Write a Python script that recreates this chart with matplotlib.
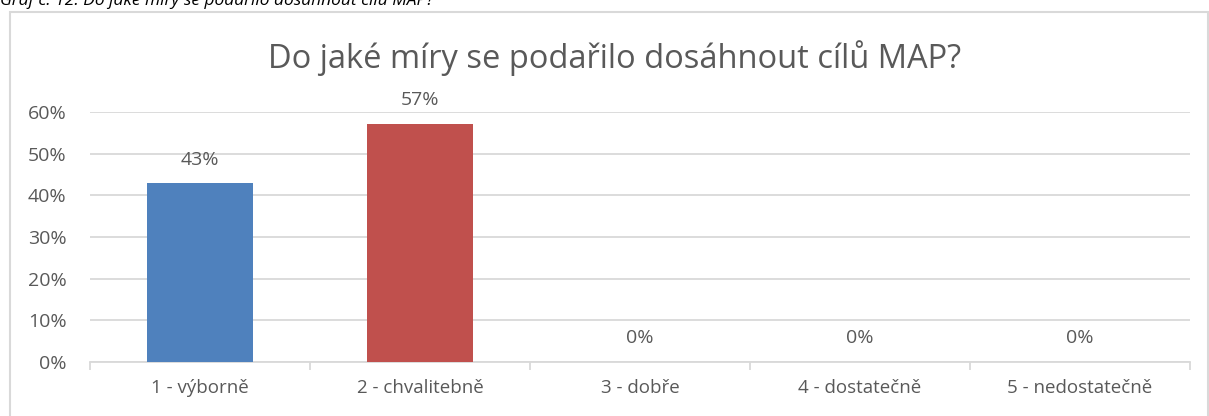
import matplotlib
matplotlib.use("Agg")
import matplotlib.pyplot as plt
from matplotlib.patches import Rectangle
import numpy as np

categories = ["1 - výborně", "2 - chvalitebně", "3 - dobře", "4 - dostatečně", "5 - nedostatečně"]
values = [0.4286, 0.5714, 0.0, 0.0, 0.0]
labels = ["43%", "57%", "0%", "0%", "0%"]
colors = ["#4F81BD", "#C0504D", "#9BBB59", "#8064A2", "#4BACC6"]
yticks = [0, 0.1, 0.2, 0.3, 0.4, 0.5, 0.6]

plt.rcParams['font.family'] = ['Open Sans', 'DejaVu Sans']
txt = "#595959"
grid = "#D9D9D9"

fig = plt.figure(figsize=(12.09, 4.16), dpi=100)
ax = fig.add_axes([90 / 1209, 1 - 362 / 416, 1100 / 1209, 250 / 416])

x = np.arange(len(categories))
ax.bar(x, values, width=0.48, color=colors, zorder=3)
for xi, v, lab in zip(x, values, labels):
    ax.annotate(lab, (xi, v), xytext=(0, 10.5), textcoords="offset points",
                ha="center", va="bottom", fontsize=14, color=txt)

ax.set_xlim(-0.5, len(categories) - 0.5)
ax.set_ylim(0, 0.6)
ax.set_yticks(yticks)
ax.set_yticklabels([f"{int(round(t * 100))}%" for t in yticks])
ax.yaxis.grid(True, color=grid, linewidth=1.3, zorder=0)
ax.tick_params(axis="y", length=0, pad=17, labelsize=14, labelcolor=txt)

ax.set_xticks(x)
ax.set_xticklabels(categories)
ax.set_xticks(np.arange(len(categories) + 1) - 0.5, minor=True)
ax.tick_params(axis="x", which="major", length=0, pad=12, labelsize=13.5, labelcolor=txt)
ax.tick_params(axis="x", which="minor", length=6, color=grid, width=1.3)

for s in ["top", "right", "left"]:
    ax.spines[s].set_visible(False)
ax.spines["bottom"].set_color(grid)
ax.spines["bottom"].set_linewidth(1.3)

fig.text(615 / 1209, 1 - 58 / 416, "Do jaké míry se podařilo dosáhnout cílů MAP?",
         ha="center", va="center", fontsize=23.5, color=txt)

fig.text(0, 1 - 5 / 416, "Graf č. 12: Do jaké míry se podařilo dosáhnout cílů MAP?",
         ha="left", va="baseline", fontsize=12.5, style="italic", color="#000000")

fig.patches.append(Rectangle((9.5 / 1209, -0.05), 1198 / 1209, 1 - 12 / 416 + 0.05,
                             transform=fig.transFigure, fill=False,
                             edgecolor=grid, linewidth=1.5))

fig.savefig("out.png", dpi=100)
